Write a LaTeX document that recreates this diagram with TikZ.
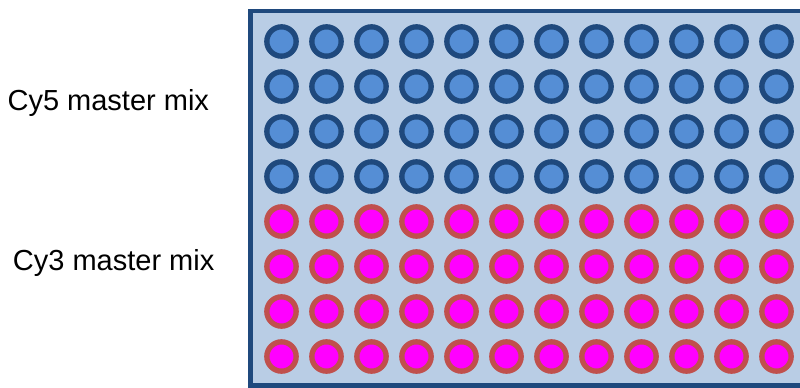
\documentclass[tikz,border=0pt]{standalone}
\usepackage{fontspec}
\setmainfont{Liberation Sans}
\usetikzlibrary{positioning}
\definecolor{plateedge}{RGB}{31,73,125}
\definecolor{platefill}{RGB}{185,205,229}
\definecolor{cyfivefill}{RGB}{85,142,213}
\definecolor{cythreefill}{RGB}{255,0,255}
\definecolor{cythreering}{RGB}{192,80,77}
\tikzset{
  well/.style={circle, minimum size=22pt, inner sep=0pt, outer sep=0pt, line width=4pt},
  cyfivewell/.style={well, draw=plateedge, fill=cyfivefill},
  cythreewell/.style={well, draw=cythreering, fill=cythreefill},
  mixlabel/.style={font=\fontsize{21.75}{26}\selectfont, inner sep=0pt, anchor=base west}
}

\begin{document}
\begin{tikzpicture}[x=0.75pt, y=-0.75pt]
    \useasboundingbox (0,0) rectangle (800,388);
    \clip (0,0) rectangle (800,388);
    % Plate
    \draw[plateedge, line width=3.4pt, fill=platefill] (250.5,11) rectangle (812,385.5);
    % Cy5 rows A-D
    \foreach \r in {1,...,4} {
      \foreach \c in {1,...,12} {
        \node[cyfivewell] (w-\r-\c) at ({281.5+45*(\c-1)}, {41.5+45*(\r-1)}) {};
      }
    }
    % Cy3 rows E-H
    \foreach \r in {5,...,8} {
      \foreach \c in {1,...,12} {
        \node[cythreewell] (w-\r-\c) at ({281.5+45*(\c-1)}, {41.5+45*(\r-1)}) {};
      }
    }
    % Labels
    \node[mixlabel] (cyfive) at (7.3, 110.7) {Cy5 master mix};
    \node[mixlabel] (cythree) at (12.7, 271) {Cy3 master mix};
\end{tikzpicture}
\end{document}
